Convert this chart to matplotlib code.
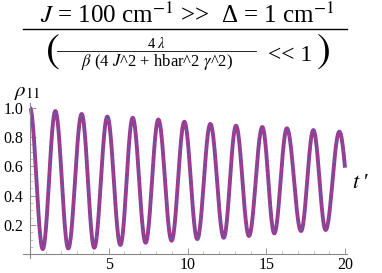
import matplotlib
matplotlib.use("Agg")
import matplotlib.pyplot as plt
import numpy as np
from matplotlib.lines import Line2D

# extrema of rho_11 (t', rho)
t_ext = [0.0, 0.81, 1.61, 2.43, 3.28, 4.08, 4.91, 5.74, 6.52, 7.34, 8.15, 8.99,
         9.80, 10.62, 11.45, 12.30, 13.08, 13.90, 14.75, 15.51, 16.31, 17.21,
         17.99, 18.77, 19.64]
rho_ext = [1.0, 0.036, 0.978, 0.040, 0.958, 0.045, 0.940, 0.064, 0.932, 0.079,
           0.920, 0.093, 0.905, 0.104, 0.890, 0.113, 0.878, 0.125, 0.869, 0.143,
           0.860, 0.159, 0.848, 0.166, 0.837]
t_end = 20.0

xticks = [5, 10, 15, 20]
xtick_labels = ["5", "10", "15", "20"]
yticks = [0.2, 0.4, 0.6, 0.8, 1.0]
ytick_labels = ["0.2", "0.4", "0.6", "0.8", "1.0"]

# smooth half-wave between successive extrema
tt, yy = [], []
for i in range(len(t_ext) - 1):
    s = np.linspace(0, 1, 40)
    tt.append(t_ext[i] + (t_ext[i + 1] - t_ext[i]) * s)
    yy.append(rho_ext[i] + (rho_ext[i + 1] - rho_ext[i]) * (1 - np.cos(np.pi * s)) / 2)
half = t_ext[-1] - t_ext[-2]
mid = (rho_ext[-1] + rho_ext[-2]) / 2
amp = (rho_ext[-1] - rho_ext[-2]) / 2
s = np.linspace(t_ext[-1], t_end, 20)
tt.append(s)
yy.append(mid + amp * np.cos(np.pi * (s - t_ext[-1]) / half))
tt = np.concatenate(tt)
yy = np.concatenate(yy)

plt.rcParams['mathtext.fontset'] = 'stix'
serif = 'Liberation Serif'

W, H = 382, 273
fig = plt.figure(figsize=(W / 100, H / 100), dpi=100)

def px(x, y):
    return x / W, 1 - y / H

x0, x1 = -0.45, 20.1
y0, y1 = -0.025, 1.03
left, right = 22.9, 346.6
bottom, top = 258.0, 103.4
ax = fig.add_axes([left / W, 1 - bottom / H, (right - left) / W, (bottom - top) / H])
ax.set_xlim(x0, x1)
ax.set_ylim(y0, y1)

ax.plot(tt, yy, color='#a03a86', lw=2.8, solid_capstyle='butt', clip_on=False)
ax.plot(tt, yy, color='#5060d0', lw=1.0, dashes=(2, 2.5), clip_on=False)

ax.spines['top'].set_visible(False)
ax.spines['right'].set_visible(False)
ax.spines['left'].set_position(('data', 0))
ax.spines['bottom'].set_position(('data', 0))
for sp in ('left', 'bottom'):
    ax.spines[sp].set_color('#888888')
    ax.spines[sp].set_linewidth(0.8)

ax.set_xticks(xticks)
ax.set_xticklabels(xtick_labels, family=serif, fontsize=11.5)
ax.set_yticks(yticks)
ax.set_yticklabels(ytick_labels, family=serif, fontsize=11.5)
ax.set_xticks(np.arange(1, 21), minor=True)
ax.set_yticks(np.arange(0.05, 1.01, 0.05), minor=True)
ax.tick_params(which='major', direction='in', length=4, width=0.6, color='#888888')
ax.tick_params(axis='y', which='major', pad=5)
ax.tick_params(axis='x', which='major', pad=2)
ax.tick_params(which='minor', direction='in', length=2, width=0.5, color='#aaaaaa')

# axis labels
fig.text(*px(14, 92), r"$\rho_{11}$", fontsize=15, ha='left', va='center')
fig.text(*px(352, 183), r"$t$ ′", family=serif, fontsize=16, ha='left', va='center')

# title (stacked fraction)
fig.text(*px(187, 15), r"$J$ = 100 cm$^{-1}$ >>  Δ = 1 cm$^{-1}$", family=serif,
         fontsize=18, ha='center', va='center')
fig.add_artist(Line2D([23 / W, 347 / W], [1 - 28.5 / H] * 2, color='black', lw=1.0))
fig.text(*px(46, 53), "(", family='STIXGeneral', fontsize=30, ha='left', va='center')
fig.text(*px(317, 53), ")", family='STIXGeneral', fontsize=30, ha='left', va='center')
fig.text(*px(157, 43), r"4 $\lambda$", family=serif, fontsize=10.5, ha='center', va='center')
fig.add_artist(Line2D([57 / W, 256 / W], [1 - 50.5 / H] * 2, color='black', lw=0.6))
fig.text(*px(157, 62), r"$\beta$ (4 $J$^2 + hbar^2 $\gamma$^2)", family=serif,
         fontsize=12, ha='center', va='center')
fig.text(*px(290, 56), "<< 1", family=serif, fontsize=17, ha='center', va='center')

fig.savefig("out.png", dpi=100)
